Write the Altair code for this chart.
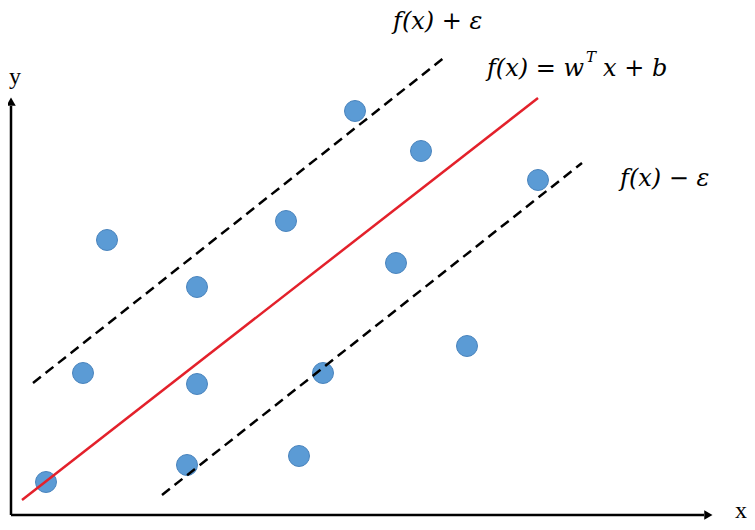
import altair as alt
import pandas as pd

# data in a pixel-like coordinate system (x right, y up)
pt_x = [46, 83, 107, 197, 197, 187, 286, 299, 323, 355, 396, 421, 467, 538]
pt_y = [48, 157, 290, 243, 146, 65, 309, 74, 157, 419, 267, 379, 184, 350]

fit_x = [22, 538]
fit_y = [30, 432]
up_x = [33, 445]
up_y = [147, 473]
lo_x = [162, 582]
lo_y = [35, 367]

axis_origin = [11, 15]
axis_x_end = 712
axis_y_end = 432

# left-aligned labels
labels_text = ["f(x) + ε", "x + b", "f(x) − ε"]
labels_x = [393, 603, 620]
labels_y = [501, 454, 344]
# right-aligned part before superscript
pre_text = ["f(x) = w"]
pre_x = [584]
pre_y = [454]
sup_text = ["T"]
sup_x = [586]
sup_y = [468]
axis_lab_text = ["y", "x"]
axis_lab_x = [9, 735]
axis_lab_y = [446, 12]

W, H = 739, 514
xs = alt.Scale(domain=[8, 8 + W], nice=False, zero=False)
ys = alt.Scale(domain=[8, 8 + H], nice=False, zero=False)

def xe(f="x"):
    return alt.X(f"{f}:Q", scale=xs, axis=None)

def ye(f="y"):
    return alt.Y(f"{f}:Q", scale=ys, axis=None)

pts = pd.DataFrame({"x": pt_x, "y": pt_y})
points = alt.Chart(pts).mark_circle(size=440, color="#5b9bd5", opacity=1,
                                    stroke="#4a84bd", strokeWidth=1).encode(x=xe(), y=ye())

def seg(xv, yv, **kw):
    df = pd.DataFrame({"x": [xv[0]], "y": [yv[0]], "x2": [xv[1]], "y2": [yv[1]]})
    return alt.Chart(df).mark_rule(**kw).encode(x=xe(), y=ye(), x2="x2:Q", y2="y2:Q")

fit = seg(fit_x, fit_y, color="#e3212b", strokeWidth=2.5)
upper = seg(up_x, up_y, color="black", strokeWidth=2.5, strokeDash=[10, 6])
lower = seg(lo_x, lo_y, color="black", strokeWidth=2.5, strokeDash=[10, 6])

yaxis = seg([axis_origin[0], axis_origin[0]], [axis_origin[1], axis_y_end - 8], color="black", strokeWidth=2.5)
xaxis = seg([axis_origin[0], axis_x_end - 8], [axis_origin[1], axis_origin[1]], color="black", strokeWidth=2.5)

arrows = pd.DataFrame({"x": [axis_origin[0], axis_x_end - 5], "y": [axis_y_end - 5, axis_origin[1]],
                       "a": [0, 90]})
heads = alt.Chart(arrows).mark_point(shape="triangle", filled=True, color="black", size=90,
                                     opacity=1).encode(x=xe(), y=ye(), angle=alt.Angle("a:Q", scale=None))

txt_style = dict(font="DejaVu Serif", fontStyle="italic", fontSize=24,
                 baseline="alphabetic", color="black")
lab = pd.DataFrame({"t": labels_text, "x": labels_x, "y": labels_y})
labels = alt.Chart(lab).mark_text(align="left", **txt_style).encode(x=xe(), y=ye(), text="t:N")
pre = alt.Chart(pd.DataFrame({"t": pre_text, "x": pre_x, "y": pre_y})).mark_text(
    align="right", **txt_style).encode(x=xe(), y=ye(), text="t:N")
sup = alt.Chart(pd.DataFrame({"t": sup_text, "x": sup_x, "y": sup_y})).mark_text(
    font="DejaVu Serif", fontStyle="italic", fontSize=15, align="left", baseline="alphabetic",
    color="black").encode(x=xe(), y=ye(), text="t:N")
alab = alt.Chart(pd.DataFrame({"t": axis_lab_text, "x": axis_lab_x, "y": axis_lab_y})).mark_text(
    font="Liberation Serif", fontSize=24, align="left", baseline="alphabetic", color="black").encode(
    x=xe(), y=ye(), text="t:N")

chart = alt.layer(points, fit, upper, lower, yaxis, xaxis, heads, labels, pre, sup, alab).properties(
    width=W, height=H, padding=0, autosize=alt.AutoSizeParams(type="none")
).configure_view(stroke=None)

chart.save("out.html", embed_options={"renderer": "svg", "actions": False})
